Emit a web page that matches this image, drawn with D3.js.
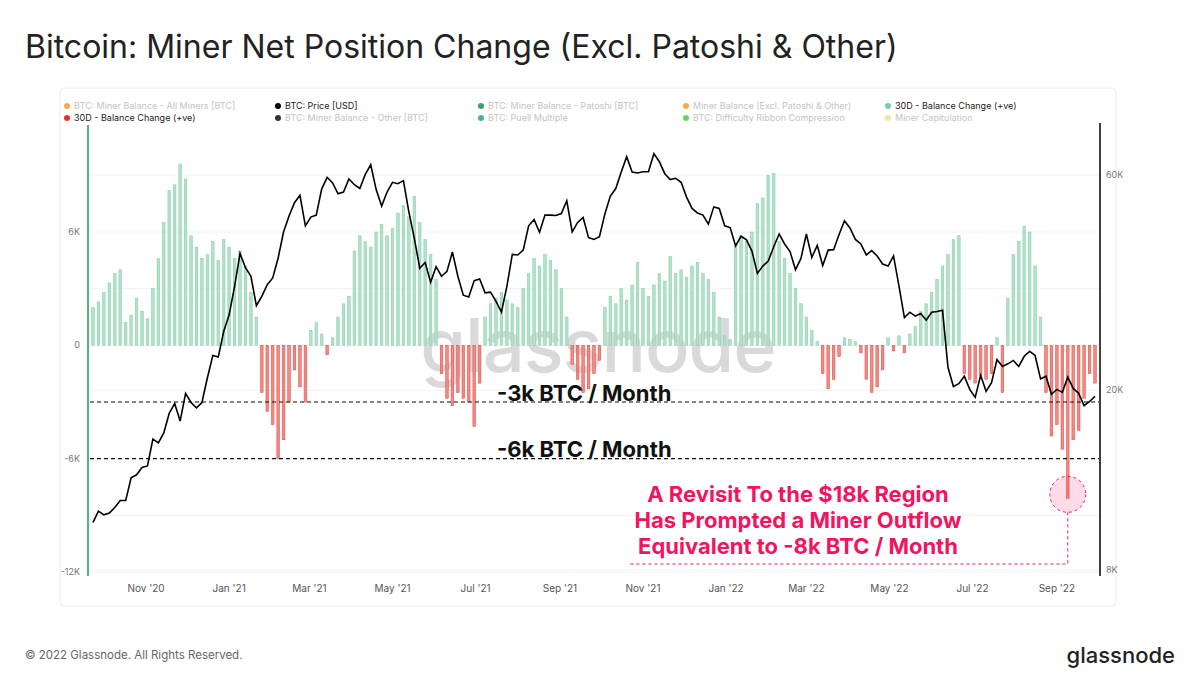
<!DOCTYPE html>
<html><head><meta charset="utf-8">
<script src="https://cdn.jsdelivr.net/npm/d3@7"></script>
<style>
body{margin:0;background:#fff;font-family:Inter,"Noto Sans",sans-serif;}
</style></head>
<body><svg id="chart" width="1200" height="691"></svg>
<script>
// 4-day samples starting 2020-09-23
const startDate = new Date(2020, 8, 23);
const stepDays = 4;

// 30D miner balance change, thousands of BTC
const balanceK = [
  2.0, 2.3, 2.8, 3.3, 3.8, 4.0,
  1.2, 1.6, 2.5, 1.8,
  1.4, 3.0, 4.6,
  6.5, 8.2, 8.5, 9.6, 8.8,
  5.8, 5.2, 4.6, 4.8, 5.5, 4.5, 5.6, 5.2, 4.6,
  5.0, 4.2, 2.8, 1.5,
  -2.5, -3.5, -4.2, -6.0, -5.0, -3.0, -1.3, -2.2, -3.0, 0.8,
  1.2, 0.6, -0.5, 0.4, 1.5,
  2.2, 2.6, 5.0, 5.8,
  5.5, 5.2, 6.0, 6.4, 5.8, 6.2,
  7.0, 7.4, 6.8, 7.9, 6.5, 5.6,
  4.8, 3.5, -1.5,
  -2.8, -3.2, -2.5, -2.8, -3.0, -4.3,
  -2.0,
  1.5, 2.2, 2.5, 2.8, 2.4, 2.2, 2.0, 3.0, 3.8, 4.6, 4.2, 4.8, 4.5, 4.0, 3.0, 1.5,
  -1.0, -1.8, -2.5, -2.3, -1.5, -0.8,
  2.0, 2.6, 2.2, 3.0, 2.4, 3.2, 4.4,
  3.0, 2.6, 3.2, 3.8, 3.4, 4.7, 3.8,
  4.0, 3.6, 4.2, 4.4, 3.8, 3.5,
  2.8, 1.5, 0.5, 0.3, 5.3,
  5.8, 5.5, 6.0, 7.5, 7.8, 9.0, 9.1, 5.5,
  4.6, 3.8, 3.0, 2.2, 1.5, 0.8, 0.2,
  -1.5, -2.3, -1.8, -0.6, 0.4, 0.3, 0.2, -0.4,
  -1.8, -2.5, -2.2, -1.3,
  0.4, -0.3, 0.5, -0.4, 0.6,
  1.0, 1.8, 2.2, 2.8, 3.5, 4.2, 4.8, 5.6, 5.8,
  -1.5, -1.8, -2.0, -1.6, -1.8, -1.5,
  0.4, -2.5,
  2.5, 4.8, 5.5, 6.3, 6.0, 4.2, 1.5,
  -2.5, -4.8, -4.2, -5.5, -8.1, -5.0, -4.5, -2.8, -1.5, -2.0
];

// BTC price, thousands of USD
const priceK = [
  10.2, 10.8, 10.6, 10.7, 11.0, 11.4, 11.4, 12.8, 13.0, 13.5,
  13.6, 15.6, 15.3, 16.1, 17.8, 18.7, 17.1, 19.7, 18.8, 18.3,
  18.8, 21.3, 23.9, 23.7, 27.0, 29.4, 34.0, 40.2, 37.4, 35.8,
  30.8, 32.3, 34.3, 35.5, 39.3, 44.9, 48.7, 52.1, 54.1, 46.3,
  48.4, 48.9, 55.9, 59.3, 57.6, 54.5, 55.0, 58.8, 57.1, 56.0,
  60.2, 63.2, 55.7, 51.2, 55.0, 57.8, 57.4, 58.3, 49.7, 43.5,
  37.3, 38.4, 34.7, 37.6, 35.8, 36.7, 40.5, 35.8, 32.5, 32.2,
  35.0, 35.3, 32.9, 33.0, 31.5, 29.8, 34.0, 40.0, 39.9, 40.9,
  46.3, 47.8, 44.8, 48.9, 48.9, 48.8, 49.3, 52.6, 44.9, 47.1,
  48.3, 43.6, 43.2, 43.8, 49.2, 53.9, 56.0, 60.9, 65.9, 60.9,
  60.6, 61.0, 61.0, 66.9, 64.2, 60.4, 58.6, 59.0, 57.8, 53.6,
  50.6, 49.4, 48.9, 46.7, 51.0, 50.6, 46.3, 45.9, 41.8, 43.9,
  43.1, 40.7, 36.3, 37.7, 38.7, 41.6, 44.4, 42.2, 40.6, 37.0,
  39.2, 44.4, 39.4, 41.9, 37.8, 40.9, 41.0, 44.3, 47.5, 45.8,
  43.2, 42.2, 39.9, 40.8, 39.7, 38.1, 37.7, 39.7, 34.1, 29.0,
  29.8, 29.2, 29.6, 28.6, 29.8, 29.9, 30.1, 22.5, 20.4, 20.7,
  21.5, 20.1, 19.3, 21.6, 19.9, 20.8, 23.4, 22.6, 22.9, 23.3,
  22.6, 23.8, 24.4, 23.9, 21.2, 21.5, 19.6, 20.1, 19.8, 21.4,
  20.2, 19.7, 18.5, 18.9, 19.4
];

const leftTicks = [6000, 0, -6000, -12000];
const rightTicks = [60000, 20000, 8000];
const monthTicks = ["2020-11","2021-01","2021-03","2021-05","2021-07","2021-09",
                    "2021-11","2022-01","2022-03","2022-05","2022-07","2022-09"];
const legendRows = [
  [["BTC: Miner Balance - All Miners [BTC]","#f7941d",false],["BTC: Price [USD]","#000",true],
   ["BTC: Miner Balance - Patoshi [BTC]","#0a8a3c",false],["Miner Balance (Excl. Patoshi & Other)","#f7941d",false],
   ["30D - Balance Change (+ve)","#7dcaa5",true]],
  [["30D - Balance Change (+ve)","#e8302a",true],["BTC: Miner Balance - Other [BTC]","#000",false],
   ["BTC: Puell Multiple","#1a9c8c",false],["BTC: Difficulty Ribbon Compression","#3ad13a",false],
   ["Miner Capitulation","#f6d98a",false]]
];
const noteLines = ["A Revisit To the $18k Region","Has Prompted a Miner Outflow","Equivalent to -8k BTC / Month"];

const svg = d3.select("#chart");
const plot = {left: 90, right: 1099, top: 125, bottom: 575};

const dates = priceK.map((d, i) => d3.timeDay.offset(startDate, i * stepDays));
const data = dates.map((d, i) => ({date: d, bal: balanceK[i] * 1000, price: priceK[i] * 1000}));

const x = d3.scaleTime()
  .domain([startDate, d3.timeDay.offset(startDate, (priceK.length - 1) * stepDays)])
  .range([plot.left + 3, plot.right - 4]);
const y = d3.scaleLinear().domain([-12000, 6000]).range([572, 232]);
const yP = d3.scaleLog().domain([8000, 60000]).range([570, 175]);

// title
svg.append("text").attr("x", 25).attr("y", 58).attr("font-size", 32)
  .attr("fill", "#222").text("Bitcoin: Miner Net Position Change (Excl. Patoshi & Other)");

// panel
svg.append("rect").attr("x", 60).attr("y", 88).attr("width", 1056).attr("height", 518)
  .attr("rx", 4).attr("fill", "none").attr("stroke", "#ececec");

// legend
legendRows.forEach((row, r) => {
  row.forEach((it, c) => {
    const lx = [64, 275, 478, 683, 885][c], ly = 109 + r * 12;
    svg.append("circle").attr("cx", lx + 3).attr("cy", ly - 3).attr("r", 3)
      .attr("fill", it[1]).attr("opacity", it[2] ? 1 : 0.8);
    svg.append("text").attr("x", lx + 10).attr("y", ly).attr("font-size", 9)
      .attr("fill", it[2] ? "#222" : "#c4c4c4").text(it[0]);
  });
});

// gridlines
const grid = svg.append("g");
leftTicks.concat([3000, -3000, -9000]).forEach(t => grid.append("line")
  .attr("x1", plot.left).attr("x2", plot.right).attr("y1", y(t)).attr("y2", y(t))
  .attr("stroke", "#f2f2f2"));
rightTicks.forEach(t => grid.append("line")
  .attr("x1", plot.left).attr("x2", plot.right).attr("y1", yP(t)).attr("y2", yP(t))
  .attr("stroke", "#f2f2f2"));

// watermark
svg.append("text").attr("x", 598).attr("y", 372).attr("text-anchor", "middle")
  .attr("font-size", 74).attr("font-weight", 500).attr("fill", "#d9d9d9")
  .attr("letter-spacing", -1).text("glassnode");

// bars
svg.append("g").selectAll("rect").data(data).enter().append("rect")
  .attr("x", d => x(d.date) - 1.3)
  .attr("width", 2.6)
  .attr("y", d => d.bal >= 0 ? y(d.bal) : y(0))
  .attr("height", d => Math.abs(y(d.bal) - y(0)))
  .attr("fill", d => d.bal >= 0 ? "#b3e2cb" : "#f28a84")
  .attr("stroke", d => d.bal >= 0 ? "#7fcaa5" : "#e5413a")
  .attr("stroke-width", 0.5);

// threshold lines
[-3000, -6000].forEach(t => svg.append("line")
  .attr("x1", plot.left).attr("x2", plot.right).attr("y1", y(t)).attr("y2", y(t))
  .attr("stroke", "#111").attr("stroke-width", 1.2).attr("stroke-dasharray", "4,3"));

// price line
svg.append("path").datum(data)
  .attr("d", d3.line().x(d => x(d.date)).y(d => yP(d.price)))
  .attr("fill", "none").attr("stroke", "#000").attr("stroke-width", 1.6);

// axes lines
svg.append("line").attr("x1", 88).attr("x2", 88).attr("y1", 125).attr("y2", 576)
  .attr("stroke", "#1f9a4a").attr("stroke-width", 1.5);
svg.append("line").attr("x1", 1100).attr("x2", 1100).attr("y1", 123).attr("y2", 576)
  .attr("stroke", "#000").attr("stroke-width", 1.5);

const fmtK = v => (v / 1000) + "K";
leftTicks.forEach(t => svg.append("text").attr("x", 80).attr("y", y(t) + 3)
  .attr("text-anchor", "end").attr("font-size", 9).attr("fill", "#777")
  .text(t === 0 ? "0" : fmtK(t)));
rightTicks.forEach(t => svg.append("text").attr("x", 1106).attr("y", yP(t) + 3)
  .attr("font-size", 9).attr("fill", "#777").text(fmtK(t)));

const parseM = d3.timeParse("%Y-%m"), fmtM = d3.timeFormat("%b '%y");
monthTicks.forEach(m => {
  const d = parseM(m);
  svg.append("text").attr("x", x(d)).attr("y", 592).attr("text-anchor", "middle")
    .attr("font-size", 10).attr("fill", "#555").text(fmtM(d));
});

// annotations
svg.append("text").attr("x", 497).attr("y", 401).attr("font-size", 22).attr("font-weight", 700)
  .attr("fill", "#111").text("-3k BTC / Month");
svg.append("text").attr("x", 497).attr("y", 457).attr("font-size", 22).attr("font-weight", 700)
  .attr("fill", "#111").text("-6k BTC / Month");

const pink = "#f2145f";
const low = data[d3.minIndex(data, d => d.bal)];
const cx = x(low.date), cy = y(low.bal) - 4;
svg.append("circle").attr("cx", cx).attr("cy", cy).attr("r", 18)
  .attr("fill", pink).attr("fill-opacity", 0.15)
  .attr("stroke", pink).attr("stroke-width", 1).attr("stroke-dasharray", "3,3");
svg.append("path").attr("d", `M${cx},${cy + 18}V564H630`)
  .attr("fill", "none").attr("stroke", pink).attr("stroke-width", 1).attr("stroke-dasharray", "3,3");
noteLines.forEach((t, i) => svg.append("text").attr("x", 798).attr("y", 502 + i * 26)
  .attr("text-anchor", "middle").attr("font-size", 22).attr("font-weight", 700)
  .attr("fill", pink).text(t));

// footer
svg.append("text").attr("x", 25).attr("y", 659).attr("font-size", 11.5).attr("fill", "#666")
  .text("© 2022 Glassnode. All Rights Reserved.");
svg.append("text").attr("x", 1175).attr("y", 663).attr("text-anchor", "end")
  .attr("font-size", 22).attr("font-weight", 500).attr("fill", "#222").text("glassnode");
</script></body></html>
